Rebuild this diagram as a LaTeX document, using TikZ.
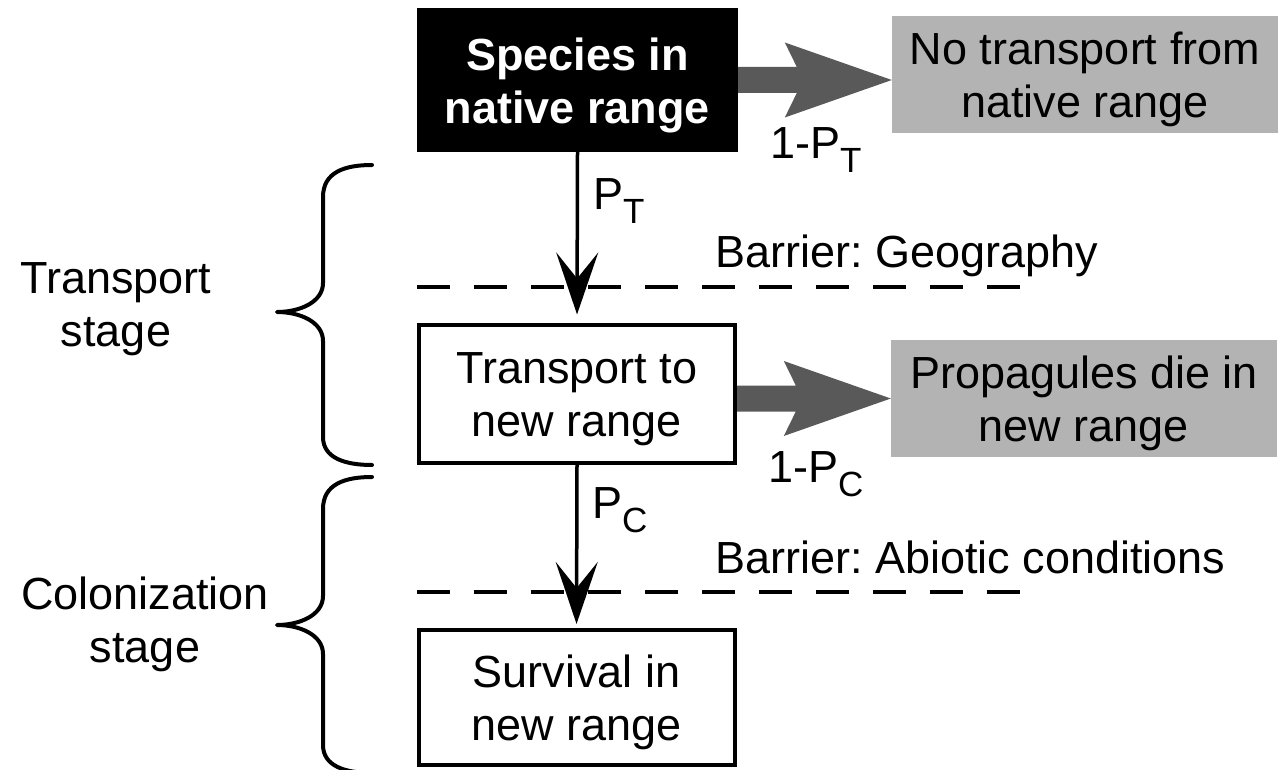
\documentclass[tikz,border=0pt]{standalone}
\usepackage{fontspec}
\setmainfont{Liberation Sans}
\usetikzlibrary{arrows.meta,calc}
\definecolor{boxgray}{HTML}{B3B3B3}
\definecolor{arrowgray}{HTML}{595959}
\frenchspacing
% lowered index letter as used in P_T, P_C
\newcommand\lowidx[1]{\raisebox{-14pt}{\fontsize{35}{35}\selectfont #1}}
% taller first line so two-line box texts sit a little lower
\newcommand\topstrut{\rule{0pt}{43pt}}
% broad grey arrow from a start point to a tip point (same height)
\newcommand\fatarrow[2]{%
  \fill[arrowgray] ($(#1)+(0,-13)$) -- ($(#2)+(-95,-13)$) -- ($(#2)+(-107,-37.5)$)
    -- (#2) -- ($(#2)+(-107,37.5)$) -- ($(#2)+(-95,13)$) -- ($(#1)+(0,13)$) -- cycle;}

\begin{document}
\begin{tikzpicture}[x=1pt,y=-1pt,
  every node/.style={font=\fontsize{45}{53}\selectfont, inner sep=0pt},
  startbox/.style={fill=black, text=white, font=\fontsize{45}{53}\selectfont\bfseries,
    minimum width=321pt, minimum height=144pt, align=center},
  stagebox/.style={draw=black, line width=4pt, minimum width=316pt, align=center},
  lossbox/.style={fill=boxgray, minimum width=386pt, minimum height=117pt, align=center},
  flow/.style={line width=3.5pt, -{Stealth[length=62pt,width=42pt,inset=26pt]}},
  barrier/.style={line width=4pt, dash pattern=on 33pt off 24pt},
  bracket/.style={line width=4pt, line cap=round, line join=round},
  lbl/.style={anchor=base west},
]
\useasboundingbox (0,0) rectangle (1282,770);

% main chain
\node[startbox] (b1) at (577.5,80) {\topstrut Species in\\native range};
\node[stagebox, minimum height=138pt] (b2) at (577,393.5) {\topstrut Transport to\\new range};
\node[stagebox, minimum height=135pt] (b3) at (576.5,697.5) {\topstrut Survival in\\new range};

% losses
\node[lossbox] (g1) at (1085,74.5) {\topstrut No transport from\\native range};
\node[lossbox] (g2) at (1084,398.5) {\topstrut Propagules die in\\new range};

% barriers
\coordinate (d1a) at (417,287);
\coordinate (d1b) at (1024,287);
\coordinate (d2a) at (417,592);
\coordinate (d2b) at (1024,592);
\draw[barrier] (d1a) -- (d1b);
\draw[barrier] (d2a) -- (d2b);

% transitions
\draw[flow, shorten >=8pt] (b1.south) -- (b2.north);
\draw[flow, shorten >=4pt] (b2.south) -- (b3.north);

\coordinate (t1) at (g1.west |- b1.east);
\coordinate (s2) at (b2.east |- g2.west);
\fatarrow{b1.east}{t1}
\fatarrow{s2}{g2.west}

% probabilities and barrier labels
\node[lbl] (pt) at (593,210) {P\lowidx{T}};
\node[lbl] (qt) at (770,159) {1-P\lowidx{T}};
\node[lbl] (bg) at (715,267) {Barrier: Geography};
\node[lbl] (pc) at (592,518) {P\lowidx{C}};
\node[lbl] (qc) at (768,482) {1-P\lowidx{C}};
\node[lbl] (ba) at (715,573) {Barrier: Abiotic conditions};

% stages
\node[align=center] (ts) at (116,309) {Transport\\stage};
\node[align=center] (cs) at (145,624) {Colonization\\stage};

\draw[bracket] (372,165) .. controls (345,165) and (323,172) .. (323,197)
  -- (323,283) .. controls (323,302) and (300,312) .. (277,312)
  .. controls (300,312) and (323,322) .. (323,341)
  -- (323,437) .. controls (323,458) and (345,465) .. (372,465);
\draw[bracket] (372,477) .. controls (345,477) and (323,484) .. (323,509)
  -- (323,596) .. controls (323,615) and (300,625) .. (277,625)
  .. controls (300,625) and (323,635) .. (323,654)
  -- (323,745) .. controls (323,766) and (345,773) .. (372,773);
\end{tikzpicture}
\end{document}
